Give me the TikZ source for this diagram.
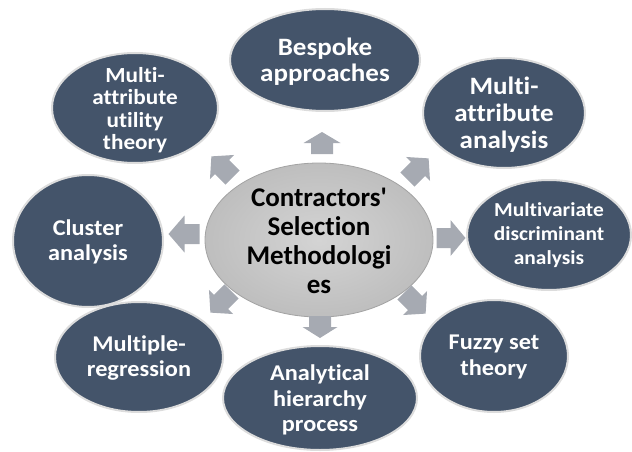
\documentclass[tikz,border=0pt]{standalone}
\usepackage{fontspec}
\setmainfont[Ligatures=NoCommon]{Carlito}
\newfontfamily\satfont[FakeStretch=1.08, Ligatures=NoCommon]{Carlito}
\usetikzlibrary{shapes.geometric}
\definecolor{satfill}{HTML}{44546A}
\definecolor{satline}{HTML}{DCDCDC}
\definecolor{ctrin}{HTML}{D4D4D4}
\definecolor{ctrout}{HTML}{BEBEBE}
\definecolor{ctrline}{HTML}{A3A3A3}
\definecolor{arrowc}{HTML}{A6AAB2}
\newcommand{\blockarr}[7]{%
  \fill[arrowc, shift={(#1,#2)}, rotate=#3]
    (-#4/2,-#6/2) -- (#4/2-#7,-#6/2) -- (#4/2-#7,-#5/2) -- (#4/2,0)
    -- (#4/2-#7,#5/2) -- (#4/2-#7,#6/2) -- (-#4/2,#6/2) -- cycle;}
\newcommand{\fsz}[2]{\fontsize{#1}{#2}\selectfont}
\begin{document}
\begin{tikzpicture}[x=1pt,y=-1pt,
  satE/.style={ellipse, fill=satfill, draw=satline, line width=2pt, inner sep=0pt},
  satT/.style={text=white, align=center, inner sep=0pt, font=\satfont\bfseries\fsz{22.5}{25.5}},
  ctrE/.style={ellipse, draw=ctrline, line width=0.8pt, inner color=ctrin, outer color=ctrout, inner sep=0pt},
  ctrT/.style={text=black, align=center, inner sep=0pt, font=\bfseries\fsz{27}{29}}]
\useasboundingbox (0,0) rectangle (632,452);
% satellites
\node[satE, minimum width=190, minimum height=102] (bes) at (325,60) {};
\node[satT, font=\satfont\bfseries\fsz{25}{26}] (bes-t) at ([yshift=-2]bes.center) {Bespoke\\approaches};
\node[satE, minimum width=166, minimum height=110] (maut) at (135,108) {};
\node[satT, font=\satfont\bfseries\fsz{21.5}{22.5}] (maut-t) at ([yshift=-2]maut.center) {Multi-\\attribute\\utility\\theory};
\node[satE, minimum width=162, minimum height=110] (maa) at (504,113) {};
\node[satT, font=\satfont\bfseries\fsz{25}{27}] (maa-t) at ([yshift=-2]maa.center) {Multi-\\attribute\\analysis};
\node[satE, minimum width=150, minimum height=132] (clu) at (88,241) {};
\node[satT] (clu-t) at ([yshift=-1]clu.center) {Cluster\\analysis};
\node[satE, minimum width=164, minimum height=110] (mda) at (549,235) {};
\node[satT, font=\satfont\bfseries\fsz{19.8}{24}] (mda-t) at (mda) {Multivariate\\discriminant\\analysis};
\node[satE, minimum width=168, minimum height=110] (mr) at (139,357) {};
\node[satT] (mr-t) at ([yshift=-1]mr.center) {Multiple-\\regression};
\node[satE, minimum width=194, minimum height=104] (ahp) at (320,398) {};
\node[satT] (ahp-t) at ([yshift=-2]ahp.center) {Analytical\\hierarchy\\process};
\node[satE, minimum width=148, minimum height=112] (fuz) at (494,356) {};
\node[satT] (fuz-t) at ([yshift=-1]fuz.center) {Fuzzy set\\theory};
% centre
\node[ctrE, minimum width=228, minimum height=154] (ctr) at (319,240) {};
\node[ctrT] (ctr-t) at ([yshift=-1]ctr.center) {Contractors\textquotesingle\\Selection\\Methodologi\\es};
% block arrows
\blockarr{322}{143}{90}{22}{37}{22}{11}
\blockarr{320}{327}{-90}{22}{35}{22}{11}
\blockarr{184}{234}{180}{31}{37}{20}{16}
\blockarr{451}{238}{0}{29}{36}{20}{15}
\blockarr{222}{167}{135}{30}{34}{20}{15}
\blockarr{418}{169}{45}{30}{34}{20}{15}
\blockarr{221}{302}{225}{30}{34}{20}{15}
\blockarr{415}{303}{-45}{30}{34}{20}{15}
\end{tikzpicture}
\end{document}
